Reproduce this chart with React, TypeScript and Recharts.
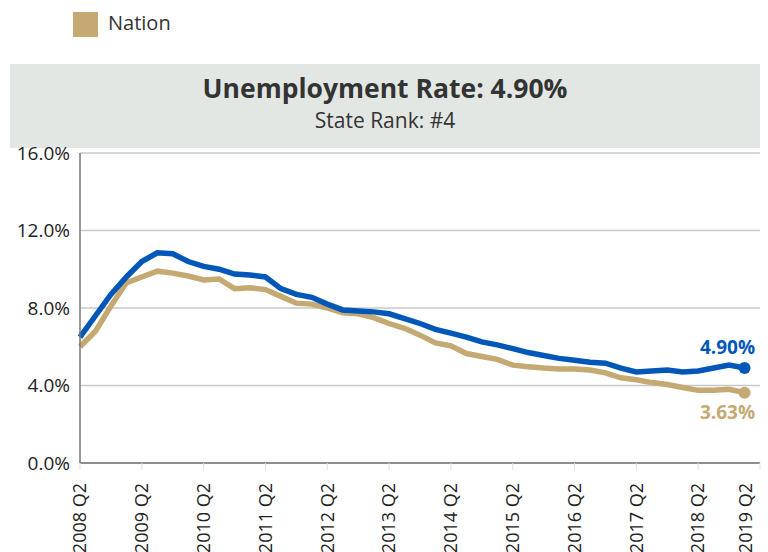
import React from 'react';
import { LineChart, Line, XAxis, YAxis, CartesianGrid } from 'recharts';

const quarters = [
  '2008 Q2', '2008 Q3', '2008 Q4', '2009 Q1', '2009 Q2', '2009 Q3', '2009 Q4', '2010 Q1',
  '2010 Q2', '2010 Q3', '2010 Q4', '2011 Q1', '2011 Q2', '2011 Q3', '2011 Q4', '2012 Q1',
  '2012 Q2', '2012 Q3', '2012 Q4', '2013 Q1', '2013 Q2', '2013 Q3', '2013 Q4', '2014 Q1',
  '2014 Q2', '2014 Q3', '2014 Q4', '2015 Q1', '2015 Q2', '2015 Q3', '2015 Q4', '2016 Q1',
  '2016 Q2', '2016 Q3', '2016 Q4', '2017 Q1', '2017 Q2', '2017 Q3', '2017 Q4', '2018 Q1',
  '2018 Q2', '2018 Q3', '2018 Q4', '2019 Q1', '2019 Q2',
];

const stateRate = [
  6.5, 7.6, 8.7, 9.6, 10.4, 10.85, 10.8, 10.4, 10.15, 10.0, 9.75, 9.7,
  9.6, 9.0, 8.7, 8.55, 8.2, 7.9, 7.85, 7.8, 7.7, 7.45, 7.2, 6.9,
  6.7, 6.5, 6.25, 6.1, 5.9, 5.7, 5.55, 5.4, 5.3, 5.2, 5.15, 4.9,
  4.7, 4.75, 4.8, 4.7, 4.75, 4.9, 5.05, 4.9,
];

const nationRate = [
  6.0, 6.8, 8.1, 9.3, 9.6, 9.9, 9.8, 9.65, 9.45, 9.5, 9.0, 9.05,
  8.95, 8.6, 8.25, 8.2, 8.0, 7.75, 7.7, 7.5, 7.2, 6.95, 6.6, 6.2,
  6.05, 5.65, 5.5, 5.35, 5.05, 4.97, 4.9, 4.85, 4.85, 4.8, 4.65, 4.4,
  4.3, 4.15, 4.05, 3.9, 3.75, 3.75, 3.8, 3.63,
];

const yTicks = [0, 4, 8, 12, 16];

const BLUE = '#0057b8';
const TAN = '#c4a973';
const FONT = '"Open Sans", "Noto Sans", sans-serif';

const data = quarters.map((q, i) => ({
  quarter: q,
  state: i < stateRate.length ? stateRate[i] : null,
  nation: i < nationRate.length ? nationRate[i] : null,
}));

const lastIndex = stateRate.length - 1;

const endDot = (color: string, dy: number) => (props: any) => {
  const { cx, cy, index, value } = props;
  if (index !== lastIndex) return <g key={`d-${index}`} />;
  return (
    <g key={`d-${index}`}>
      <circle cx={cx} cy={cy} r={6} fill={color} />
      <text
        x={cx - 17}
        y={cy + dy}
        textAnchor="middle"
        fill={color}
        fontSize={19}
        fontWeight={700}
        fontFamily={FONT}
      >
        {Number(value).toFixed(2)}%
      </text>
    </g>
  );
};

const XTick = (props: any) => {
  const { x, y, payload } = props;
  const px = Math.min(x, 746);
  return (
    <text
      transform={`translate(${px},${y + 11}) rotate(-90)`}
      textAnchor="end"
      dy="0.35em"
      fontSize={18}
      fill="#222"
      fontFamily={FONT}
    >
      {payload.value}
    </text>
  );
};

const App = () => {
  return (
    <div style={{ position: 'absolute', left: 0, top: 0, width: 768, height: 552, background: '#fff', fontFamily: FONT }}>
      <div style={{ position: 'absolute', left: 73, top: 12, width: 25, height: 25, background: TAN }} />
      <div style={{ position: 'absolute', left: 108, top: 9, fontSize: 20, color: '#333', lineHeight: '28px' }}>Nation</div>
      <div style={{ position: 'absolute', left: 10, top: 64, width: 750, height: 84, background: '#e3e7e4' }}>
        <div style={{ position: 'absolute', left: 0, right: 0, top: 6, textAlign: 'center', fontSize: 26.5, fontWeight: 700, color: '#333', lineHeight: '36px' }}>
          Unemployment Rate: 4.90%
        </div>
        <div style={{ position: 'absolute', left: 0, right: 0, top: 42, textAlign: 'center', fontSize: 21, color: '#333', lineHeight: '28px' }}>
          State Rank: #4
        </div>
      </div>
      <div style={{ position: 'absolute', left: 0, top: 0 }}>
        <LineChart width={768} height={552} data={data} margin={{ top: 153, right: 8, left: 10, bottom: 4 }}>
          <CartesianGrid vertical={false} stroke="#c8c8c8" strokeWidth={1.5} />
          <XAxis
            dataKey="quarter"
            interval={3}
            height={85}
            tick={<XTick />}
            tickLine={{ stroke: '#e0e0e0' }}
            tickSize={7}
            axisLine={{ stroke: '#777', strokeWidth: 1.5 }}
          />
          <YAxis
            width={70}
            domain={[0, 16]}
            ticks={yTicks}
            tickFormatter={(v: number) => `${v.toFixed(1)}%`}
            tick={{ fontSize: 19, fill: '#222', fontFamily: FONT }}
            tickLine={false}
            tickMargin={4}
            axisLine={{ stroke: '#777', strokeWidth: 1.5 }}
          />
          <Line
            type="linear"
            dataKey="nation"
            stroke={TAN}
            strokeWidth={5.5}
            dot={endDot(TAN, 26)}
            activeDot={false}
            isAnimationActive={false}
          />
          <Line
            type="linear"
            dataKey="state"
            stroke={BLUE}
            strokeWidth={5.5}
            dot={endDot(BLUE, -14)}
            activeDot={false}
            isAnimationActive={false}
          />
        </LineChart>
      </div>
    </div>
  );
};

export default App;
